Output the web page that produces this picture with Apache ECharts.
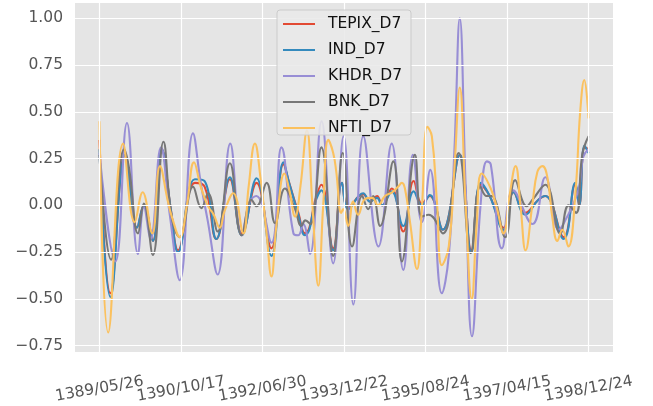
<!DOCTYPE html>
<html>
<head>
<meta charset="utf-8">
<script src="https://cdn.jsdelivr.net/npm/echarts@6/dist/echarts.min.js"></script>
<style>
  html, body { margin: 0; padding: 0; background: #ffffff; }
  #chart { width: 653px; height: 406px; }
</style>
</head>
<body>
<div id="chart"></div>
<script>
// Observation index of each labelled date and the date text shown under it
const tickIndex = [0, 400, 800, 1200, 1600, 2000, 2400];
const tickLabels = ['1389/05/26', '1390/10/17', '1392/06/30', '1393/12/22', '1395/08/24', '1397/04/15', '1398/12/24'];
const yTicks = [-0.75, -0.5, -0.25, 0, 0.25, 0.5, 0.75, 1.0];

// Level-7 detail components, [observation index, value]
const tepix = [[0,0.35],[54,-0.47],[126,0.27],[184,-0.12],[218,0.0],[262,-0.19],[306,0.30],[350,-0.02],[386,-0.24],[468,0.12],[516,0.10],[574,-0.18],[640,0.14],[698,-0.15],[771,0.12],[844,-0.23],[903,0.22],[931,0.12],[976,-0.04],[1009,-0.15],[1030,-0.12],[1057,0.02],[1089,0.11],[1147,-0.23],[1190,0.12],[1221,-0.01],[1294,0.06],[1328,0.02],[1362,0.05],[1387,0.0],[1434,0.09],[1491,-0.14],[1542,0.13],[1582,0.01],[1621,0.05],[1685,-0.13],[1768,0.27],[1825,-0.24],[1871,0.11],[1915,0.05],[1983,-0.12],[2032,0.07],[2089,-0.04],[2154,0.03],[2188,0.05],[2278,-0.17],[2335,0.11],[2354,0.0],[2380,0.31],[2400,0.30]];

const ind = [[0,0.30],[54,-0.49],[126,0.27],[184,-0.12],[218,0.0],[262,-0.19],[306,0.30],[350,-0.02],[386,-0.25],[468,0.14],[516,0.13],[574,-0.18],[640,0.15],[698,-0.16],[771,0.145],[844,-0.27],[903,0.23],[931,0.12],[976,-0.05],[1009,-0.16],[1030,-0.13],[1057,0.01],[1089,0.08],[1147,-0.24],[1190,0.12],[1221,-0.02],[1294,0.065],[1328,0.02],[1362,0.04],[1387,0.0],[1434,0.075],[1491,-0.11],[1542,0.075],[1582,0.0],[1621,0.055],[1685,-0.13],[1768,0.27],[1825,-0.25],[1871,0.12],[1915,0.05],[1983,-0.13],[2032,0.07],[2089,-0.05],[2154,0.03],[2188,0.05],[2278,-0.18],[2335,0.12],[2354,0.0],[2380,0.32],[2400,0.28]];

const khdr = [[0,0.28],[78,-0.30],[135,0.44],[189,-0.26],[218,-0.01],[250,-0.18],[302,0.31],[345,-0.05],[394,-0.40],[459,0.385],[497,0.12],[531,-0.08],[580,-0.37],[642,0.33],[698,-0.16],[737,0.02],[770,0.05],[844,-0.20],[893,0.31],[952,-0.15],[975,-0.16],[1000,-0.10],[1033,-0.26],[1090,0.45],[1147,-0.31],[1198,0.37],[1246,-0.53],[1295,0.37],[1369,-0.22],[1434,0.33],[1491,-0.345],[1538,0.27],[1582,-0.09],[1623,0.19],[1680,-0.47],[1714,-0.27],[1742,0.30],[1768,1.0],[1797,0.10],[1828,-0.70],[1870,0.0],[1901,0.235],[1920,0.22],[1975,-0.23],[2030,0.08],[2125,-0.10],[2188,0.15],[2253,-0.13],[2281,-0.09],[2350,0.08],[2374,0.26],[2400,0.30]];

const bnk = [[0,0.27],[57,-0.29],[121,0.30],[145,0.20],[189,-0.15],[218,0.01],[262,-0.265],[314,0.34],[354,-0.06],[394,-0.17],[459,0.10],[500,-0.015],[533,0.065],[580,-0.14],[640,0.225],[698,-0.16],[746,0.03],[771,-0.005],[820,0.12],[862,-0.095],[910,0.09],[960,-0.02],[991,-0.11],[1010,-0.08],[1035,-0.10],[1089,0.31],[1147,-0.27],[1194,0.28],[1240,-0.22],[1289,0.05],[1319,-0.02],[1343,0.05],[1377,-0.11],[1442,0.235],[1484,-0.30],[1548,0.27],[1582,-0.06],[1616,-0.05],[1685,-0.15],[1762,0.28],[1822,-0.255],[1869,0.10],[1900,0.05],[1924,0.05],[1991,-0.17],[2040,0.135],[2097,-0.005],[2125,0.03],[2188,0.11],[2261,-0.15],[2302,0.0],[2339,-0.04],[2369,0.27],[2400,0.37]];

const nfti = [[0,0.45],[43,-0.68],[116,0.33],[173,-0.09],[212,0.07],[259,-0.15],[297,0.21],[336,0.02],[355,-0.06],[394,-0.17],[429,0.0],[464,0.23],[497,0.10],[531,0.0],[561,-0.05],[590,-0.12],[614,-0.03],[657,0.065],[706,-0.15],[732,0.10],[763,0.33],[790,0.15],[820,-0.15],[844,-0.38],[869,-0.10],[908,0.17],[932,0.08],[960,-0.06],[986,0.10],[1018,0.40],[1045,0.0],[1074,-0.43],[1098,0.0],[1123,0.35],[1147,0.28],[1162,0.18],[1186,-0.04],[1196,-0.02],[1221,-0.11],[1245,0.02],[1269,-0.05],[1304,0.035],[1338,0.04],[1367,0.0],[1401,0.05],[1436,0.07],[1465,0.10],[1484,0.12],[1499,0.09],[1524,-0.09],[1558,-0.34],[1582,-0.02],[1609,0.42],[1631,0.37],[1656,0.02],[1680,-0.32],[1714,-0.22],[1742,0.20],[1768,0.63],[1797,0.0],[1827,-0.50],[1851,-0.10],[1876,0.17],[1920,0.09],[1949,-0.01],[1983,-0.15],[2012,0.05],[2042,0.21],[2066,0.0],[2091,-0.24],[2125,0.01],[2149,0.18],[2174,0.21],[2198,0.15],[2223,-0.07],[2247,-0.19],[2271,-0.13],[2301,-0.22],[2335,0.06],[2359,0.50],[2379,0.67],[2400,0.465]];

const seriesNames = ['TEPIX_D7', 'IND_D7', 'KHDR_D7', 'BNK_D7', 'NFTI_D7'];
const seriesData = [tepix, ind, khdr, bnk, nfti];
const colors = ['#E24A33', '#348ABD', '#988ED5', '#777777', '#FBC15E'];

const FONT = 'DejaVu Sans';
const chart = echarts.init(document.getElementById('chart'), null, { renderer: 'canvas' });

const lineSeries = seriesNames.map((name, i) => ({
  name: name,
  type: 'line',
  data: seriesData[i],
  smooth: 0.45,
  showSymbol: false,
  symbol: 'none',
  zlevel: 0,
  z: 3,
  lineStyle: { width: 2.1, color: colors[i] },
  itemStyle: { color: colors[i] },
  emphasis: { disabled: true }
}));

// white background grid drawn beneath the curves
const gridSeries = {
  name: 'grid',
  type: 'line',
  data: [],
  z: 1,
  silent: true,
  markLine: {
    silent: true,
    symbol: ['none', 'none'],
    label: { show: false },
    lineStyle: { color: '#ffffff', width: 1.2, type: 'solid' },
    emphasis: { disabled: true },
    animation: false,
    data: yTicks.map(v => ({ yAxis: v })).concat(tickIndex.map(v => ({ xAxis: v })))
  }
};

// date labels split over two bottom axes so neighbouring rotated labels are all kept
const evenTicks = tickIndex.filter((_, i) => i % 2 === 0);
const oddTicks = tickIndex.filter((_, i) => i % 2 === 1);
const dateLabel = {
  rotate: 10,
  align: 'center',
  verticalAlign: 'middle',
  margin: 37,
  color: '#555555',
  fontFamily: FONT,
  fontSize: 15.5,
  hideOverlap: false,
  formatter: v => tickLabels[tickIndex.indexOf(Math.round(v))] || ''
};

chart.setOption({
  animation: false,
  backgroundColor: '#ffffff',
  grid: {
    left: 75, top: 3, width: 538, height: 349,
    show: true, backgroundColor: '#E5E5E5', borderWidth: 0
  },
  // semi-opaque legend frame laid over the curves
  graphic: {
    elements: [{
      type: 'rect',
      zlevel: 5,
      z: 100,
      silent: true,
      shape: { x: 277, y: 10, width: 134, height: 125, r: 3 },
      style: { fill: 'rgba(233,233,233,0.86)', stroke: 'rgba(200,200,200,0.9)', lineWidth: 1 }
    }]
  },
  xAxis: [{
    type: 'value',
    min: -120, max: 2520,
    axisLine: { show: false },
    splitLine: { show: false },
    axisTick: { show: true, length: 5, lineStyle: { color: '#555555', width: 1 }, customValues: tickIndex },
    axisLabel: Object.assign({ customValues: evenTicks }, dateLabel)
  }, {
    type: 'value',
    position: 'bottom',
    gridIndex: 0,
    min: -120, max: 2520,
    axisLine: { show: false },
    splitLine: { show: false },
    axisTick: { show: false },
    axisLabel: Object.assign({ customValues: oddTicks }, dateLabel)
  }],
  yAxis: {
    type: 'value',
    min: -0.784, max: 1.082,
    axisLine: { show: false },
    splitLine: { show: false },
    axisTick: { show: true, length: 5, lineStyle: { color: '#555555', width: 1 }, customValues: yTicks },
    axisLabel: {
      customValues: yTicks,
      margin: 12,
      color: '#555555',
      fontFamily: FONT,
      fontSize: 15.5,
      formatter: v => v.toFixed(2).replace('-', '\u2212')
    }
  },
  legend: {
    data: seriesNames,
    orient: 'vertical',
    left: 277, top: 10,
    zlevel: 6,
    z: 100,
    itemWidth: 32, itemHeight: 2,
    itemGap: 10,
    icon: 'rect',
    padding: [6, 9, 8, 6],
    selectedMode: false,
    textStyle: { color: '#111111', fontFamily: FONT, fontSize: 15.5, lineHeight: 14, padding: [0, 0, 0, 8] }
  },
  series: [gridSeries].concat(lineSeries)
});
</script>
</body>
</html>
